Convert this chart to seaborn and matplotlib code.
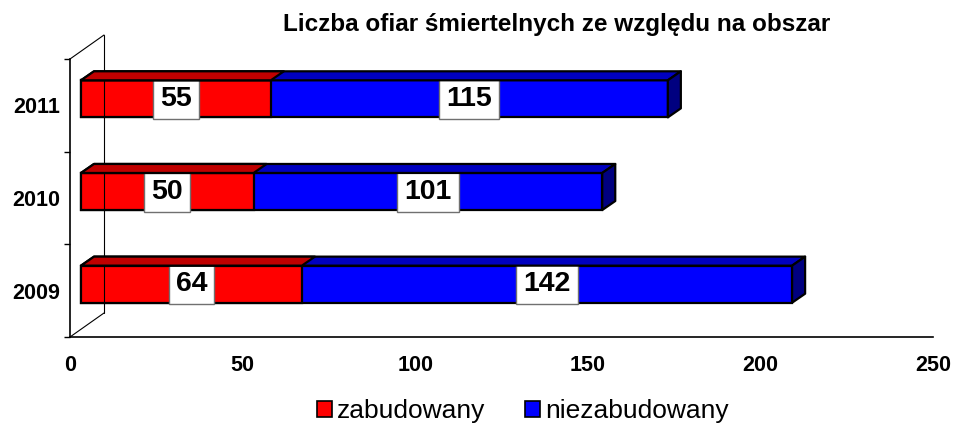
import numpy as np
import pandas as pd
import matplotlib
matplotlib.use("Agg")
import matplotlib.pyplot as plt
import seaborn as sns
from matplotlib.transforms import ScaledTranslation, IdentityTransform
from matplotlib.patches import Polygon, Patch
from matplotlib.lines import Line2D

# ---- data ----
years = ["2011", "2010", "2009"]
zabudowany = [55, 50, 64]
niezabudowany = [115, 101, 142]
xticks = [0, 50, 100, 150, 200, 250]
title = "Liczba ofiar śmiertelnych ze względu na obszar"
series_names = ["zabudowany", "niezabudowany"]

RED, RED_TOP = "#FF0000", "#C00000"
BLUE, BLUE_TOP, BLUE_SIDE = "#0000FF", "#0000C0", "#000080"

sns.set_theme(style="white")
plt.rcParams["font.family"] = ["Liberation Sans", "DejaVu Sans"]
plt.rcParams["text.color"] = "black"
plt.rcParams["xtick.color"] = "black"
plt.rcParams["ytick.color"] = "black"
plt.rcParams["axes.labelcolor"] = "black"

W, H, DPI = 954, 423, 100
fig = plt.figure(figsize=(W / DPI, H / DPI), dpi=DPI)
ax = fig.add_axes([70 / W, 1 - 337 / H, 863 / W, 278 / H])

df = pd.DataFrame({"rok": years, "zab": zabudowany, "niez": niezabudowany})
df["total"] = df["zab"] + df["niez"]

BAR_W = 0.4
sns.barplot(data=df, y="rok", x="total", order=years, color=BLUE, saturation=1,
            orient="h", width=BAR_W, edgecolor="black", linewidth=1.6, ax=ax)
sns.barplot(data=df, y="rok", x="zab", order=years, color=RED, saturation=1,
            orient="h", width=BAR_W, edgecolor="black", linewidth=1.6, ax=ax)

ax.set_xlim(0, 250)
ax.set_ylim(2.5, -0.5)

# front face offset (pixels: right, up) and bar depth (pixels)
FX, FY = 11, 6.5
DX, DY = 13, 9
off = ScaledTranslation(FX / DPI, FY / DPI, fig.dpi_scale_trans)

patches = list(ax.patches)
nb = len(years)
blue_p, red_p = patches[:nb], patches[nb:2 * nb]

fig.canvas.draw()
tr = ax.transData + off

def faces(p, topc, sidec=None):
    x0, y0 = p.get_x(), p.get_y()
    x1, y1 = x0 + p.get_width(), y0 + p.get_height()
    pts = tr.transform([(x0, y0), (x1, y0), (x1, y1), (x0, y1)])
    top_y = pts[:, 1].max()
    bot_y = pts[:, 1].min()
    left_x, right_x = pts[:, 0].min(), pts[:, 0].max()
    top = [(left_x, top_y), (right_x, top_y), (right_x + DX, top_y + DY), (left_x + DX, top_y + DY)]
    fig.add_artist(Polygon(top, closed=True, facecolor=topc, edgecolor="black",
                           linewidth=1.6, transform=IdentityTransform(), zorder=1.5, joinstyle="round"))
    if sidec is not None:
        side = [(right_x, bot_y), (right_x, top_y), (right_x + DX, top_y + DY), (right_x + DX, bot_y + DY)]
        fig.add_artist(Polygon(side, closed=True, facecolor=sidec, edgecolor="black",
                               linewidth=1.6, transform=IdentityTransform(), zorder=1.5, joinstyle="round"))

for p in blue_p:
    p.set_transform(tr)
    p.set_clip_on(False)
    faces(p, BLUE_TOP, BLUE_SIDE)
for p in red_p:
    p.set_transform(tr)
    p.set_clip_on(False)
    faces(p, RED_TOP)

# value labels
for i, (z, n) in enumerate(zip(zabudowany, niezabudowany)):
    for xv, val in ((z / 2, z), (z + n / 2, n)):
        ax.text(xv, i, str(val), transform=tr, ha="center", va="center",
                fontsize=20.5, fontweight="bold", color="black", zorder=5,
                bbox=dict(boxstyle="square,pad=0.25", facecolor="white",
                          edgecolor="#707070", linewidth=1))

# axes styling
for s in ["top", "right"]:
    ax.spines[s].set_visible(False)
for s in ["left", "bottom"]:
    ax.spines[s].set_color("black")
    ax.spines[s].set_linewidth(1.2)
ax.set_xlabel("")
ax.set_ylabel("")
ax.set_xticks(xticks)
ax.set_xticklabels([str(t) for t in xticks], fontsize=15.5, fontweight="bold")
ax.tick_params(axis="x", direction="out", length=5, width=1, color="black", pad=8)
ax.tick_params(axis="y", which="major", length=0, pad=7)
for lab in ax.get_yticklabels():
    lab.set_fontsize(15.5)
    lab.set_fontweight("bold")
ax.set_yticks([-0.5, 0.5, 1.5, 2.5], minor=True)
ax.tick_params(axis="y", which="minor", direction="out", length=4, width=1, color="black", left=True)

# back wall lines (3D frame)
BX, BY = 34, 24
p0 = ax.transAxes.transform((0, 0))
p1 = ax.transAxes.transform((0, 1))
for a, b in [((p0[0], p0[1]), (p0[0] + BX, p0[1] + BY)),
             ((p0[0] + BX, p0[1] + BY), (p1[0] + BX, p1[1] + BY)),
             ((p1[0], p1[1]), (p1[0] + BX, p1[1] + BY))]:
    fig.add_artist(Line2D([a[0], b[0]], [a[1], b[1]], color="black", linewidth=0.8,
                          transform=IdentityTransform(), zorder=0.5))

fig.text(557 / W, 1 - 31 / H, title, ha="center", va="baseline",
         fontsize=17.5, fontweight="bold")

handles = [Patch(facecolor=RED, edgecolor="black", linewidth=1.2),
           Patch(facecolor=BLUE, edgecolor="black", linewidth=1.2)]
fig.legend(handles, series_names, loc="center", bbox_to_anchor=(523 / W, 1 - 411 / H),
           ncol=2, frameon=False, fontsize=19, handlelength=0.55, handleheight=0.55,
           handletextpad=0.2, columnspacing=1.5, borderaxespad=0, borderpad=0)

fig.savefig("out.png", dpi=DPI)
